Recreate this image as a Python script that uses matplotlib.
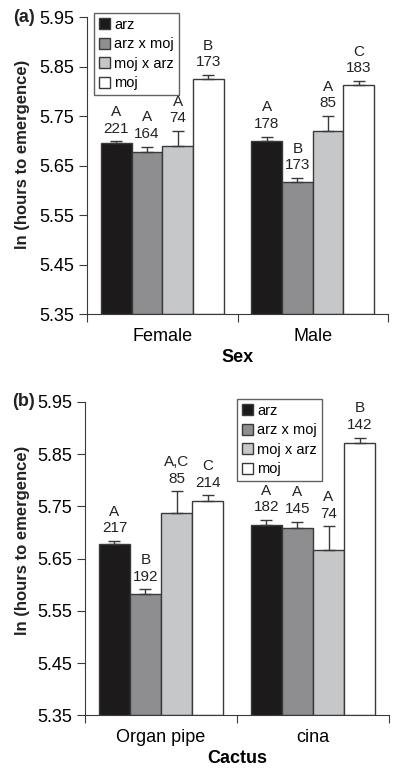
import matplotlib
matplotlib.use("Agg")
import matplotlib.pyplot as plt
import numpy as np

plt.rcParams['font.family'] = ['Liberation Sans', 'DejaVu Sans']

series = ["arz", "arz x moj", "moj x arz", "moj"]
colors = ["#1c1a1b", "#8e8e90", "#c6c7c9", "#ffffff"]

# Panel (a): Sex
sex_groups = ["Female", "Male"]
sex_means = {
    "arz":       [5.695, 5.700],
    "arz x moj": [5.678, 5.616],
    "moj x arz": [5.690, 5.720],
    "moj":       [5.825, 5.812],
}
sex_err = {
    "arz":       [0.004, 0.008],
    "arz x moj": [0.010, 0.009],
    "moj x arz": [0.030, 0.030],
    "moj":       [0.008, 0.009],
}
sex_letters = {
    "arz":       ["A", "A"],
    "arz x moj": ["A", "B"],
    "moj x arz": ["A", "A"],
    "moj":       ["B", "C"],
}
sex_n = {
    "arz":       [221, 178],
    "arz x moj": [164, 173],
    "moj x arz": [74, 85],
    "moj":       [173, 183],
}

# Panel (b): Cactus
cactus_groups = ["Organ pipe", "cina"]
cactus_means = {
    "arz":       [5.678, 5.714],
    "arz x moj": [5.582, 5.708],
    "moj x arz": [5.738, 5.667],
    "moj":       [5.761, 5.871],
}
cactus_err = {
    "arz":       [0.006, 0.010],
    "arz x moj": [0.009, 0.013],
    "moj x arz": [0.041, 0.045],
    "moj":       [0.010, 0.011],
}
cactus_letters = {
    "arz":       ["A", "A"],
    "arz x moj": ["B", "A"],
    "moj x arz": ["A,C", "A"],
    "moj":       ["C", "B"],
}
cactus_n = {
    "arz":       [217, 182],
    "arz x moj": [192, 145],
    "moj x arz": [85, 74],
    "moj":       [214, 142],
}

yticks = [5.35, 5.45, 5.55, 5.65, 5.75, 5.85, 5.95]

fig = plt.figure(figsize=(4.0, 7.75), dpi=100)
ax_a = fig.add_axes([0.2175, 1 - 314 / 775, 0.97 - 0.2175, (314 - 17) / 775])
ax_b = fig.add_axes([0.2125, 1 - 715.3 / 775, 0.9725 - 0.2125, (715.3 - 402) / 775])

edge = "#3a3a3a"
bw = 0.204


def draw(ax, groups, means, errs, letters, ns, xlabel, panel, panel_y, ylab_y, leg_anchor):
    centers = np.arange(len(groups)) + 0.5
    handles = []
    for i, s in enumerate(series):
        xs = centers + (i - 1.5) * bw
        b = ax.bar(xs, np.array(means[s]) - 5.35, bw, bottom=5.35, color=colors[i],
                   edgecolor=edge, linewidth=1.0, label=s, zorder=2)
        handles.append(b)
        ax.errorbar(xs, means[s], yerr=[np.zeros(len(xs)), errs[s]], fmt="none",
                    ecolor=edge, elinewidth=1.0, capsize=4, capthick=1.0, zorder=3)
        for x, m, e, l, n in zip(xs, means[s], errs[s], letters[s], ns[s]):
            ax.annotate(f"{l}\n{n}", xy=(x, m + e), xytext=(0, 4), textcoords="offset points",
                        ha="center", va="bottom", fontsize=11, linespacing=1.25, color="#222222")
    ax.set_xlim(0, len(groups))
    ax.set_ylim(5.35, 5.95)
    ax.set_yticks(yticks)
    ax.set_yticklabels([f"{v:.2f}" for v in yticks], fontsize=13)
    ax.set_xticks([0, 1, 2])
    ax.set_xticklabels([])
    ax.set_xticks(centers, minor=True)
    ax.set_xticklabels(groups, minor=True, fontsize=13)
    ax.tick_params(axis="x", which="minor", length=0, pad=10)
    ax.tick_params(axis="x", which="major", length=6, direction="out", color=edge)
    ax.tick_params(axis="y", length=6, direction="out", color=edge, pad=3)
    for sp in ["top", "right"]:
        ax.spines[sp].set_visible(False)
    for sp in ["left", "bottom"]:
        ax.spines[sp].set_color(edge)
    ax.set_xlabel(xlabel, fontsize=13, fontweight="bold", labelpad=3)
    fig.text(23 / 400, 1 - ylab_y / 775, "ln (hours to emergence)", rotation=90,
             fontsize=12, fontweight="bold", ha="center", va="center", color="#222222")
    fig.text(35 / 400, 1 - panel_y / 775, panel, fontsize=13, fontweight="bold",
             ha="right", va="center", color="#222222")
    leg = fig.legend(handles=handles, labels=series, loc="upper left",
                     bbox_to_anchor=leg_anchor, fontsize=10.5, frameon=True, fancybox=False,
                     edgecolor=edge, handlelength=0.8, handleheight=0.8, handletextpad=0.25,
                     labelspacing=0.38, borderpad=0.33, borderaxespad=0)
    leg.get_frame().set_linewidth(1.0)


draw(ax_a, sex_groups, sex_means, sex_err, sex_letters, sex_n, "Sex", "(a)", 17, 154,
     (94 / 400, 1 - 13 / 775))
draw(ax_b, cactus_groups, cactus_means, cactus_err, cactus_letters, cactus_n, "Cactus", "(b)",
     402, 540, (237 / 400, 1 - 399 / 775))

fig.savefig("out.png", dpi=100)
